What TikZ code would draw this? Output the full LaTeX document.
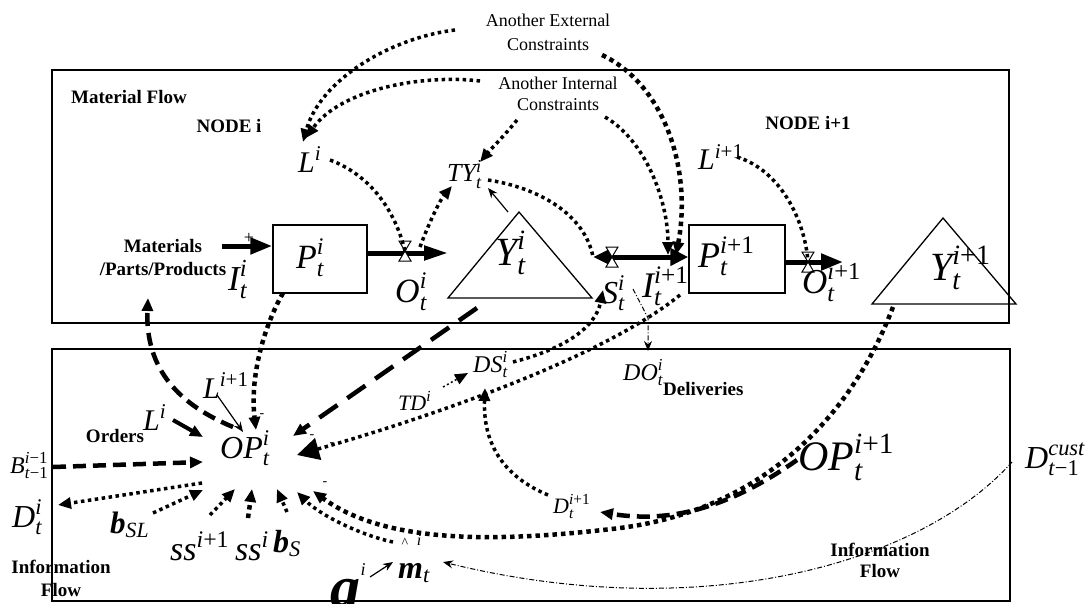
\documentclass[tikz,border=0pt]{standalone}
\usepackage{fix-cm}
\usepackage{fontspec}
\setmainfont{Liberation Serif}
\usepackage{amsmath}
\usetikzlibrary{positioning,calc,arrows.meta}
\newcommand{\vsym}[4]{\fontsize{#1}{#1}\selectfont$\text{\itshape #2}^{\text{\itshape #3}}_{\text{\itshape #4}}$}
\newcommand{\vsup}[3]{\fontsize{#1}{#1}\selectfont$\text{\itshape #2}^{\text{\itshape #3}}$}
\newcommand{\bsub}[3]{\fontsize{#1}{#1}\selectfont$\text{\bfseries\itshape #2}_{\text{\itshape #3}}$}
\tikzset{frame/.style={line width=1.5pt},
         lbl/.style={font=\bfseries\fontsize{19}{23}\selectfont,align=center,inner sep=0pt},
         note/.style={font=\fontsize{18}{23}\selectfont,align=center,inner sep=0pt},
         sym/.style={inner sep=0pt,anchor=base west},
         pbox/.style={draw,line width=1.5pt,minimum width=94pt,minimum height=68pt,inner sep=0pt},
         flow/.style={line width=5pt,-{Triangle[length=22pt,width=16pt]}},
         dots/.style={line width=3.5pt,dash pattern=on 3.5pt off 3.5pt},
         heavydots/.style={line width=4.5pt,dash pattern=on 4.5pt off 4pt},
         thindots/.style={line width=1.5pt,dash pattern=on 2pt off 2.5pt},
         dashline/.style={line width=4.5pt,dash pattern=on 13pt off 7pt},
         longdash/.style={line width=4.5pt,dash pattern=on 22pt off 12pt},
         dashdot/.style={line width=1pt,dash pattern=on 5pt off 2pt on 1pt off 2pt},
         head/.style={-{Triangle[length=13pt,width=11pt]}},
         bighead/.style={-{Triangle[length=22pt,width=22pt]}},
         thinhead/.style={-{Stealth[length=10pt,width=8pt]}},
         minus/.style={font=\fontsize{14}{14}\selectfont,inner sep=0pt},
         valve/.pic={\draw[fill=white,line width=1pt] (-6,-10) -- (6,-10) -- (-6,10) -- (6,10) -- cycle;}
}
\begin{document}
\begin{tikzpicture}[x=1pt,y=-1pt]
\useasboundingbox (0,0) rectangle (1091,604);

% the two frames
\draw[frame] (52,70) rectangle (1009,323);
\draw[frame] (52,349) rectangle (1010,601);

% words
\node[lbl] (matflow) at (129,97) {Material Flow};
\node[lbl] (nodei) at (229,126) {NODE i};
\node[lbl] (nodein) at (808,123) {NODE i+1};
\node[lbl] (materials) at (163,258) {Materials\\/Parts/Products};
\node[lbl] (orders) at (115,436) {Orders};
\node[lbl,anchor=west] (deliv) at (663,389) {Deliveries};
\node[lbl] (infoleft) at (61,578) {Information\\Flow};
\node[lbl,font=\bfseries\fontsize{19}{21}\selectfont] (inforight) at (880,560) {Information\\Flow};
\node[note,font=\fontsize{18}{24}\selectfont] (extc) at (548,32) {Another External\\Constraints};
\node[note,font=\fontsize{18}{21}\selectfont] (intc) at (558,94) {Another Internal\\Constraints};

% node i and node i+1
\node[pbox] (pi) at (320,259) {};
\node[pbox,minimum width=96pt] (pn) at (737,259) {};
\coordinate (ya) at (519,212);
\coordinate (yl) at (448,298);
\coordinate (yr) at (592,298);
\draw[line width=1.3pt] (ya) -- (yr) -- (yl) -- cycle;
\coordinate (yna) at (943,218);
\coordinate (ynl) at (872,304);
\coordinate (ynr) at (1016,304);
\draw[line width=1.3pt] (yna) -- (ynr) -- (ynl) -- cycle;

% material flow arrows
\coordinate (inA) at (222,246);
\draw[flow] (inA) -- (inA -| pi.west);
\node[minus,font=\fontsize{18}{18}\selectfont] (plus) at (249,238) {+};
\coordinate (otip) at (448,253);
\draw[flow,-{Triangle[length=24pt,width=14pt]}] (pi.east |- otip) -- (otip);
\coordinate (stip) at (593,257);
\draw[line width=5pt,{Triangle[length=18pt,width=16pt]}-{Triangle[length=18pt,width=17pt]}] (stip) -- (stip -| pn.west);
\coordinate (ontip) at (843,262);
\draw[flow] (pn.east |- ontip) -- (ontip);
\coordinate (vo) at (405,251);
\coordinate (vs) at (612,257);
\coordinate (von) at (808,262);
\pic at (vo) {valve};
\pic at (vs) {valve};
\pic at (von) {valve};

% symbols
\node[sym] (lt) at (298,172) {\vsup{30}{L}{i}};
\node[sym] (ty) at (447,182) {\vsym{26}{TY}{i}{t}};
\node[sym] (ii) at (228,290) {\vsym{35}{I}{i}{t}};
\node[sym] (pil) at (296,268) {\vsym{34}{P}{i}{t}};
\node[sym] (oi) at (395,302) {\vsym{34}{O}{i}{t}};
\node[sym] (yi) at (495,265) {\vsym{40}{Y}{i}{t}};
\node[sym] (si) at (602,303) {\vsym{32}{S}{i}{t}};
\node[sym] (iin) at (642,297) {\vsym{36}{I}{i\textup{+1}}{t}};
\node[sym] (ltn) at (698,170) {\vsup{30}{L}{i\textup{+1}}};
\node[sym] (pnl) at (698,267) {\vsym{36}{P}{i\textup{+1}}{t}};
\node[sym] (on) at (802,293) {\vsym{35}{O}{i\textup{+1}}{t}};
\node[sym] (yn) at (930,280) {\vsym{40}{Y}{i\textup{+1}}{t}};
\node[sym] (ds) at (473,372) {\vsym{24}{DS}{i}{t}};
\node[sym] (do) at (623,380) {\vsym{24}{DO}{i}{t}};
\node[sym] (td) at (398,410) {\vsup{22}{TD}{i}};
\node[sym] (dn) at (553,513) {\vsym{22}{D}{i\textup{+1}}{t}};
\node[sym] (op) at (220,458) {\vsym{32}{OP}{i}{t}};
\node[sym] (opn) at (798,470) {\vsym{42}{OP}{i\textup{+1}}{t}};
\node[sym] (dcust) at (1025,468) {\vsym{32}{D}{cust}{t\textup{−1}}};
\node[sym] (lbn) at (203,398) {\vsup{30}{L}{i\textup{+1}}};
\node[sym] (lb) at (143,430) {\vsup{30}{L}{i}};
\node[sym] (bb) at (10,473) {\vsym{24}{B}{i\textup{−1}}{t\textup{−1}}};
\node[sym] (di) at (12,527) {\vsym{32}{D}{i}{t}};
\node[sym] (bsl) at (110,533) {\bsub{31}{b}{SL}};
\node[sym] (ssn) at (170,560) {\vsup{34}{ss}{i\textup{+1}}};
\node[sym] (ss) at (235,560) {\vsup{34}{ss}{i}};
\node[sym] (bs) at (273,552) {\bsub{32}{b}{S}};
\node[sym] (mu) at (398,578) {\bsub{32}{m}{t}};
\node[minus] (hat) at (405,543) {\textasciicircum};
\node[minus,font=\itshape\fontsize{16}{16}\selectfont] (hati) at (419,540) {i};
\node[sym] (al) at (330,607) {\fontsize{60}{60}\selectfont\bfseries\itshape a};
\node[minus,font=\itshape\fontsize{18}{18}\selectfont] (ali) at (363,570) {i};
\foreach \p in {(262,416),(312,437),(332,445),(325,484)}
  \node[minus] at \p {-};

% constraints
\coordinate (extA) at (455,30);
\coordinate (ltip) at (303,142);
\draw[dots,head] (extA) .. controls (390,38) and (320,80) .. (ltip);
\coordinate (intA) at (480,81);
\draw[dots,head] (intA) .. controls (420,74) and (340,90) .. (306,138);
\coordinate (ltout) at (330,160);
\draw[dots] (ltout) .. controls (370,175) and (395,210) .. (vo);
\coordinate (vout) at (420,247);
\coordinate (tytip) at (452,186);
\draw[dots,head] (vout) .. controls (428,225) and (440,200) .. (tytip);
\coordinate (intB) at (517,120);
\coordinate (tytop) at (480,162);
\draw[dots,head] (intB) .. controls (505,135) and (490,150) .. (tytop);
\coordinate (tyright) at (488,188);
\draw[line width=1.2pt,thinhead] (ya) ++(-11,0) -- (tyright);
\coordinate (tyout) at (488,180);
\draw[dots] (tyout) .. controls (540,188) and (585,215) .. (stip);
\coordinate (extB) at (602,55);
\coordinate (itip) at (676,255);
\draw[heavydots,head] (extB) .. controls (665,85) and (692,170) .. (itip);
\coordinate (intD) at (605,117);
\coordinate (itipb) at (668,255);
\draw[dots,head] (intD) .. controls (645,140) and (668,200) .. (itipb);
\coordinate (ltnout) at (737,157);
\draw[dots] (ltnout) .. controls (780,170) and (805,220) .. (von);

% information flow
\coordinate (pibot) at (283,293);
\coordinate (optop) at (256,430);
\draw[heavydots,head] (pibot) .. controls (262,330) and (250,380) .. (optop);
\coordinate (opnw) at (233,427);
\coordinate (matup) at (148,298);
\draw[dashline,head] (opnw) .. controls (180,405) and (145,370) .. (matup);
\coordinate (ybot) at (477,308);
\coordinate (opne) at (293,436);
\draw[longdash,head] (ybot) -- (opne);
\coordinate (iout) at (680,295);
\coordinate (opeast) at (297,455);
\draw[dots,bighead] (iout) .. controls (600,360) and (420,420) .. (opeast);
\coordinate (dsout) at (513,362);
\coordinate (stipb) at (603,290);
\draw[dots,head] (dsout) .. controls (560,350) and (595,330) .. (stipb);
\coordinate (tdout) at (443,387);
\coordinate (dstip) at (468,373);
\draw[thindots,head] (tdout) -- (dstip);
\coordinate (dnout) at (548,495);
\coordinate (dmeet) at (485,388);
\draw[dots,head] (dnout) .. controls (500,475) and (483,440) .. (dmeet);
\coordinate (opnout) at (797,460);
\coordinate (dntip) at (600,512);
\draw[dashline,head] (opnout) .. controls (740,500) and (680,525) .. (dntip);
\coordinate (ynbot) at (893,307);
\coordinate (arcmid) at (620,528);
\coordinate (opse) at (313,491);
\draw[heavydots,head] (ynbot) .. controls (850,420) and (760,510) .. (arcmid)
  .. controls (480,545) and (380,540) .. (opse);
\coordinate (muout) at (393,542);
\coordinate (opsw) at (297,492);
\draw[dots,head] (muout) .. controls (360,535) and (320,515) .. (opsw);
\coordinate (dcout) at (1012,462);
\coordinate (mutip) at (443,562);
\draw[dashdot,thinhead] (dcout) .. controls (920,565) and (700,625) .. (mutip);
\coordinate (alout) at (370,577);
\coordinate (alin) at (393,562);
\draw[line width=1.2pt,thinhead] (alout) -- (alin);
\coordinate (lbout) at (173,420);
\coordinate (lbin) at (203,437);
\draw[line width=4pt,head] (lbout) -- (lbin);
\coordinate (lbnout) at (217,395);
\coordinate (lbnin) at (243,432);
\draw[line width=1.2pt,thinhead] (lbnout) -- (lbnin);
\coordinate (bbout) at (53,467);
\coordinate (bbin) at (203,462);
\draw[dashline,head] (bbout) -- (bbin);
\coordinate (opw) at (202,483);
\coordinate (ditip) at (58,505);
\draw[dots,head] (opw) -- (ditip);
\coordinate (bslout) at (153,513);
\coordinate (bslin) at (203,490);
\draw[dots,head] (bslout) -- (bslin);
\coordinate (ssnout) at (210,515);
\coordinate (ssnin) at (235,489);
\draw[dots,head] (ssnout) -- (ssnin);
\coordinate (ssout) at (248,518);
\coordinate (ssin) at (252,489);
\draw[heavydots,head] (ssout) -- (ssin);
\coordinate (bsout) at (287,512);
\coordinate (bsin) at (277,489);
\draw[dots,head] (bsout) -- (bsin);
\coordinate (iidot) at (633,289);
\coordinate (dotip) at (648,351);
\draw[dashdot,thinhead] (iidot) -- (648,318) -- (dotip);

\end{tikzpicture}
\end{document}
